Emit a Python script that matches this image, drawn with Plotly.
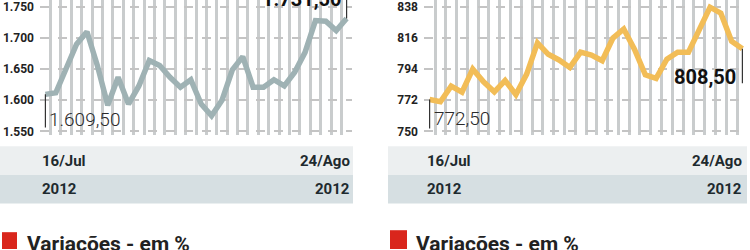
import plotly.graph_objects as go

# ---------------- data ----------------
dates = ["16/07", "17/07", "18/07", "19/07", "20/07", "23/07", "24/07", "25/07", "26/07", "27/07",
         "30/07", "31/07", "01/08", "02/08", "03/08", "06/08", "07/08", "08/08", "09/08", "10/08",
         "13/08", "14/08", "15/08", "16/08", "17/08", "20/08", "21/08", "22/08", "23/08", "24/08"]
left_values = [1609.5, 1612, 1651, 1690, 1710, 1656, 1592, 1637, 1594, 1623,
               1664, 1656, 1637, 1621, 1633, 1594, 1575, 1600, 1649, 1670,
               1621, 1621, 1633, 1623, 1645, 1677, 1728, 1727, 1712, 1731.5]
right_values = [772.5, 771, 782, 777.8, 794, 785, 778, 786, 776, 790.5,
                812.6, 804.5, 800.5, 795.2, 806, 804, 800, 816, 822.4, 808,
                790, 787.5, 801, 806, 806, 822, 837.8, 833.6, 813.8, 808.5]
left_ticks = [1550, 1600, 1650, 1700, 1750]
left_ticktext = ["1.550", "1.600", "1.650", "1.700", "1.750"]
right_ticks = [750, 772, 794, 816, 838]
right_ticktext = ["750", "772", "794", "816", "838"]
first_label = ["1.609,50", "772,50"]
last_label = ["1.731,50", "808,50"]
start_text = "16/Jul"
end_text = "24/Ago"
year_text = "2012"
section_title = "Variações - em %"

# ---------------- helpers ----------------
W, H = 750, 250
def px(x):
    return x / W
def py(y):
    return 1 - y / H

FONT = "Roboto, Liberation Sans, Arial, sans-serif"
x_idx = list(range(len(dates)))
n = len(dates)

fig = go.Figure()
fig.add_trace(go.Scatter(x=x_idx, y=left_values, mode="lines", xaxis="x", yaxis="y",
                         line=dict(color="#9fb2b4", width=5.5), hoverinfo="skip", showlegend=False))
fig.add_trace(go.Scatter(x=x_idx, y=right_values, mode="lines", xaxis="x2", yaxis="y2",
                         line=dict(color="#f2bd57", width=5.5), hoverinfo="skip", showlegend=False))

xcommon = dict(range=[-0.52, n - 1 + 0.52], tick0=-0.5, dtick=1, showgrid=True,
               gridcolor="#c9cccd", gridwidth=2.5, showticklabels=False, ticks="",
               zeroline=False, showline=False, fixedrange=True)
ycommon = dict(showgrid=True, gridcolor="#c4c4c4", gridwidth=1.5, griddash="dash",
               zeroline=False, showline=False, ticks="", ticklabelstandoff=5,
               tickfont=dict(family=FONT, size=12, color="#222222", weight="bold"),
               fixedrange=True)

l_scale = 200 / 126.0
r_scale = 88 / 126.0
fig.update_layout(
    width=W, height=H, autosize=False,
    margin=dict(l=0, r=0, t=0, b=0),
    paper_bgcolor="white", plot_bgcolor="white",
    showlegend=False,
    xaxis=dict(domain=[px(40), px(352)], anchor="y", **xcommon),
    yaxis=dict(domain=[py(137), 1], anchor="x",
               range=[1550 - 4 * l_scale, 1750 + 7 * l_scale],
               tickvals=left_ticks, ticktext=left_ticktext, **ycommon),
    xaxis2=dict(domain=[px(424), px(748)], anchor="y2", **xcommon),
    yaxis2=dict(domain=[py(137), 1], anchor="x2",
                range=[750 - 4 * r_scale, 838 + 7 * r_scale],
                tickvals=right_ticks, ticktext=right_ticktext, **ycommon),
)

shapes = []
annotations = []

panels = [
    dict(xr="x", yr="y", vals=left_values, band=(0, 353), text_l=40, text_r=352,
         red=(2, 17, 235), title_x=26, low=1543.7 + 8 * l_scale,
         last_anchor=("right", "bottom"), last_xy=(343, 12), first_xy=(47, 121),
         last_line_to=1770),
    dict(xr="x2", yr="y2", vals=right_values, band=(388, 747), text_l=425, text_r=744,
         red=(390, 407, 233), title_x=415, low=747.2 + 7 * r_scale,
         last_anchor=("right", "middle"), last_xy=(737, 78), first_xy=(432, 120),
         last_line_to=808.5 - 35 * r_scale),
]

for i, p in enumerate(panels):
    x0, x1 = p["band"]
    shapes.append(dict(type="rect", xref="paper", yref="paper", x0=px(x0), x1=px(x1),
                       y0=py(177), y1=py(148), fillcolor="#eceff0", line=dict(width=0), layer="below"))
    shapes.append(dict(type="rect", xref="paper", yref="paper", x0=px(x0), x1=px(x1),
                       y0=py(206), y1=py(177), fillcolor="#d6dfe2", line=dict(width=0), layer="below"))
    rx0, rx1, ry0 = p["red"]
    shapes.append(dict(type="rect", xref="paper", yref="paper", x0=px(rx0), x1=px(rx1),
                       y0=py(252), y1=py(ry0), fillcolor="#d9261c", line=dict(width=0)))
    vals = p["vals"]
    shapes.append(dict(type="line", xref=p["xr"], yref=p["yr"], x0=0, x1=0,
                       y0=vals[0], y1=p["low"], line=dict(color="#333333", width=1.2)))
    shapes.append(dict(type="line", xref=p["xr"], yref=p["yr"], x0=n - 1, x1=n - 1,
                       y0=vals[-1], y1=p["last_line_to"], line=dict(color="#333333", width=1.2)))
    for txt, yy in ((start_text, 163), (year_text, 191)):
        annotations.append(dict(xref="paper", yref="paper", x=px(p["text_l"]), y=py(yy),
                                xanchor="left", yanchor="middle", showarrow=False, text=txt,
                                font=dict(family=FONT, size=15, color="#1e2a2e", weight="bold")))
    for txt, yy in ((end_text, 163), (year_text, 191)):
        annotations.append(dict(xref="paper", yref="paper", x=px(p["text_r"]), y=py(yy),
                                xanchor="right", yanchor="middle", showarrow=False, text=txt,
                                font=dict(family=FONT, size=15, color="#1e2a2e", weight="bold")))
    fx, fy = p["first_xy"]
    annotations.append(dict(xref="paper", yref="paper", x=px(fx), y=py(fy),
                            xanchor="left", yanchor="middle", showarrow=False, text=first_label[i],
                            font=dict(family=FONT, size=19, color="#2a2a2a", weight=300)))
    lx, ly = p["last_xy"]
    annotations.append(dict(xref="paper", yref="paper", x=px(lx), y=py(ly),
                            xanchor=p["last_anchor"][0], yanchor=p["last_anchor"][1], showarrow=False,
                            text=last_label[i], borderpad=0,
                            font=dict(family=FONT, size=20, color="#111111", weight="bold")))
    annotations.append(dict(xref="paper", yref="paper", x=px(p["title_x"]), y=py(234),
                            xanchor="left", yanchor="top", showarrow=False, text=section_title,
                            borderpad=0,
                            font=dict(family=FONT, size=21, color="#222222", weight="bold")))

fig.update_layout(shapes=shapes, annotations=annotations)
fig.write_html("out.html")
